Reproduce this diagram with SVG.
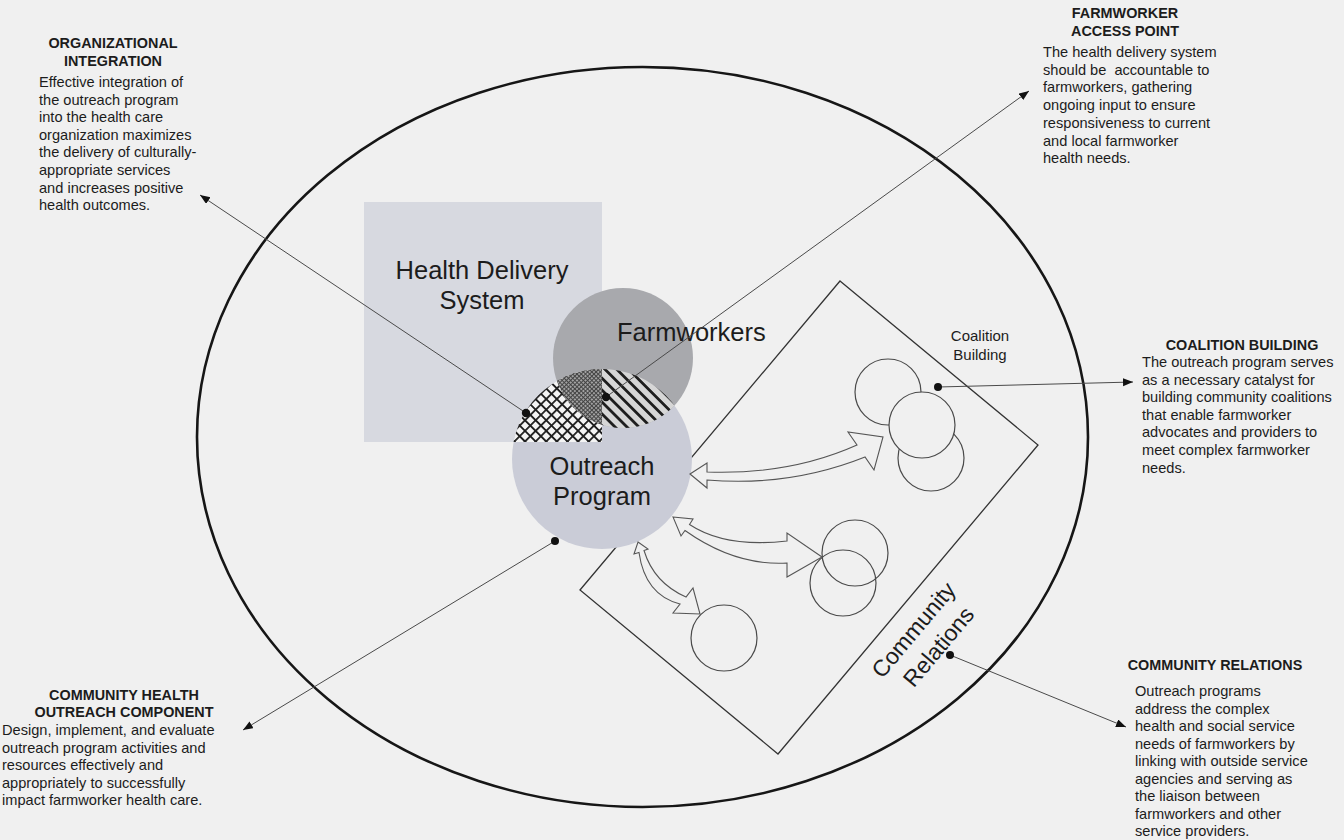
<svg xmlns="http://www.w3.org/2000/svg" width="1344" height="840" viewBox="0 0 1344 840">
  <style>
    .txt { font-family: "Liberation Sans", Arial, sans-serif; fill: #1c1c1c; }
    .body { font-size: 14.6px; }
    .head { font-size: 14.4px; font-weight: bold; text-anchor: middle; }
    .big { font-size: 25.5px; }
    .label { font-size: 15px; text-anchor: middle; }
    .leader { stroke: #4a4a4a; stroke-width: 1; fill: none; }
    .dot { fill: #111; }
    .ring { stroke: #4a4a4a; stroke-width: 1.2; }
    .block { fill: #f0f0f0; stroke: #555; stroke-width: 1.1; stroke-linejoin: miter; }
  </style>
  <defs>
    <marker id="tip" markerUnits="userSpaceOnUse" markerWidth="12" markerHeight="10" refX="10" refY="4" orient="auto">
      <path d="M0,0 L10,4 L0,8 Z" fill="#111"/>
    </marker>
    <!-- diamond lattice -->
    <pattern id="cross" patternUnits="userSpaceOnUse" width="7.5" height="7.5" patternTransform="rotate(45)">
      <rect width="7.5" height="7.5" fill="#f4f4f4"/>
      <path d="M0,0.9 H7.5 M0.9,0 V7.5" stroke="#1e1e1e" stroke-width="1.8"/>
    </pattern>
    <!-- fine dotted grid -->
    <pattern id="dense" patternUnits="userSpaceOnUse" width="3" height="3" patternTransform="rotate(45)">
      <rect width="3" height="3" fill="#a2a2a2"/>
      <path d="M0,0.5 H3 M0.5,0 V3" stroke="#444" stroke-width="1"/>
    </pattern>
    <!-- diagonal stripes -->
    <pattern id="stripe" patternUnits="userSpaceOnUse" width="8" height="8.4" patternTransform="rotate(45)">
      <rect width="8" height="8.4" fill="#d6d6d6"/>
      <rect y="0" width="8" height="2.8" fill="#1e1e1e"/>
    </pattern>
    <clipPath id="clipBox"><rect x="364" y="202" width="238" height="240"/></clipPath>
    <clipPath id="clipOut"><circle cx="602" cy="459" r="90"/></clipPath>
    <clipPath id="clipFarm"><circle cx="623" cy="358" r="70"/></clipPath>
  </defs>

  <rect width="1344" height="840" fill="#f0f0f0"/>

  <!-- outer boundary -->
  <ellipse id="boundary" cx="642.5" cy="437" rx="445.5" ry="370" fill="none" stroke="#161616" stroke-width="2.6"/>

  <g id="health-delivery-system">
    <rect x="364" y="202" width="238" height="240" fill="#d7d9e0"/>
    <text class="txt big" text-anchor="middle" x="482" y="279">Health Delivery</text>
    <text class="txt big" text-anchor="middle" x="482" y="309">System</text>
  </g>

  <g id="community-relations">
    <polygon points="840,281 1038,445 778,754 580,590" fill="none" stroke="#333" stroke-width="1.3"/>
    <text class="txt" font-size="23" text-anchor="middle" transform="translate(927,637) rotate(-50)">
      <tspan x="0" y="-7">Community</tspan>
      <tspan x="0" y="23">Relations</tspan>
    </text>
  </g>

  <g id="outreach-program">
    <circle cx="602" cy="459" r="90" fill="#caccd7"/>
  </g>

  <g id="farmworkers">
    <circle cx="623" cy="358" r="70" fill="#a8a9ad"/>
    <text class="txt big" x="617" y="341">Farmworkers</text>
  </g>

  <!-- overlap zones -->
  <g id="overlaps" clip-path="url(#clipOut)">
    <g clip-path="url(#clipBox)">
      <rect x="364" y="202" width="330" height="360" fill="url(#cross)"/>
    </g>
    <g clip-path="url(#clipFarm)">
      <rect x="364" y="202" width="330" height="360" fill="url(#stripe)"/>
      <g clip-path="url(#clipBox)">
        <rect x="364" y="202" width="330" height="360" fill="url(#dense)"/>
      </g>
    </g>
  </g>

  <g id="outreach-label">
    <text class="txt big" text-anchor="middle" x="602" y="475">Outreach</text>
    <text class="txt big" text-anchor="middle" x="602" y="505">Program</text>
  </g>

  <g id="coalition-building">
    <text class="txt label" x="980" y="341">Coalition</text>
    <text class="txt label" x="980" y="360">Building</text>
    <circle class="ring" cx="888" cy="392" r="33" fill="#f0f0f0"/>
    <circle class="ring" cx="931" cy="458" r="33" fill="#f0f0f0"/>
    <circle class="ring" cx="922" cy="425" r="33" fill="#f0f0f0"/>
  </g>

  <g id="partner-pair">
    <circle class="ring" cx="855" cy="553" r="33" fill="none"/>
    <circle class="ring" cx="843" cy="583" r="33" fill="none"/>
  </g>

  <g id="partner-single">
    <circle class="ring" cx="724" cy="638" r="33" fill="none"/>
  </g>

  <g id="connectors">
    <!-- two-way links from the outreach program -->
    <path class="block" d="M690,474 L707,463 L707,472 Q790,475 857,445 L848,432 L883,437 L874,470 L865,457 Q790,487 707,480 L707,488 Z"/>
    <path class="block" d="M673,517 L693,519 L689.5,524.5 Q725,548 787,541 L787,533 L822,557 L787,577 L787,563 Q735,566 685,530.5 L681,536 Z"/>
    <path class="block" d="M638,542 L648,549 L644,550.5 Q654,583 686,597 L693,588 L700,614 L673,613 L680,604 Q645,595 639,552.5 L634,554 Z"/>

    <!-- callout leaders -->
    <line class="leader" x1="526" y1="413" x2="200" y2="195" marker-end="url(#tip)"/>
    <line class="leader" x1="606" y1="397" x2="1029" y2="91" marker-end="url(#tip)"/>
    <line class="leader" x1="938" y1="387" x2="1133" y2="382" marker-end="url(#tip)"/>
    <line class="leader" x1="950" y1="655" x2="1126" y2="727" marker-end="url(#tip)"/>
    <line class="leader" x1="555" y1="541" x2="243" y2="730" marker-end="url(#tip)"/>
    <circle class="dot" cx="526" cy="413" r="4.2"/>
    <circle class="dot" cx="606" cy="397" r="4.2"/>
    <circle class="dot" cx="938" cy="387" r="4"/>
    <circle class="dot" cx="950" cy="655" r="4"/>
    <circle class="dot" cx="555" cy="541" r="4"/>
  </g>

  <g id="note-organizational-integration" class="txt">
    <text class="head" x="113" y="48">ORGANIZATIONAL</text>
    <text class="head" x="113" y="66">INTEGRATION</text>
    <text class="body" x="39" y="87">Effective integration of</text>
    <text class="body" x="39" y="104.6">the outreach program</text>
    <text class="body" x="39" y="122.2">into the health care</text>
    <text class="body" x="39" y="139.8">organization maximizes</text>
    <text class="body" x="39" y="157.4">the delivery of culturally-</text>
    <text class="body" x="39" y="175">appropriate services</text>
    <text class="body" x="39" y="192.6">and increases positive</text>
    <text class="body" x="39" y="210.2">health outcomes.</text>
  </g>

  <g id="note-farmworker-access-point" class="txt">
    <text class="head" x="1125" y="18">FARMWORKER</text>
    <text class="head" x="1125" y="36">ACCESS POINT</text>
    <text class="body" x="1043" y="57">The health delivery system</text>
    <text class="body" x="1043" y="74.7">should be&#160; accountable to</text>
    <text class="body" x="1043" y="92.4">farmworkers, gathering</text>
    <text class="body" x="1043" y="110.1">ongoing input to ensure</text>
    <text class="body" x="1043" y="127.8">responsiveness to current</text>
    <text class="body" x="1043" y="145.5">and local farmworker</text>
    <text class="body" x="1043" y="163.2">health needs.</text>
  </g>

  <g id="note-coalition-building" class="txt">
    <text class="head" x="1242" y="350">COALITION BUILDING</text>
    <text class="body" x="1142" y="367">The outreach program serves</text>
    <text class="body" x="1142" y="384.6">as a necessary catalyst for</text>
    <text class="body" x="1142" y="402.2">building community coalitions</text>
    <text class="body" x="1142" y="419.8">that enable farmworker</text>
    <text class="body" x="1142" y="437.4">advocates and providers to</text>
    <text class="body" x="1142" y="455">meet complex farmworker</text>
    <text class="body" x="1142" y="472.6">needs.</text>
  </g>

  <g id="note-community-relations" class="txt">
    <text class="head" x="1215" y="670">COMMUNITY RELATIONS</text>
    <text class="body" x="1135" y="696">Outreach programs</text>
    <text class="body" x="1135" y="713.5">address the complex</text>
    <text class="body" x="1135" y="731">health and social service</text>
    <text class="body" x="1135" y="748.5">needs of farmworkers by</text>
    <text class="body" x="1135" y="766">linking with outside service</text>
    <text class="body" x="1135" y="783.5">agencies and serving as</text>
    <text class="body" x="1135" y="801">the liaison between</text>
    <text class="body" x="1135" y="818.5">farmworkers and other</text>
    <text class="body" x="1135" y="836">service providers.</text>
  </g>

  <g id="note-community-health-outreach" class="txt">
    <text class="head" x="124" y="700">COMMUNITY HEALTH</text>
    <text class="head" x="124" y="717">OUTREACH COMPONENT</text>
    <text class="body" x="2" y="735">Design, implement, and evaluate</text>
    <text class="body" x="2" y="752.5">outreach program activities and</text>
    <text class="body" x="2" y="770">resources effectively and</text>
    <text class="body" x="2" y="787.5">appropriately to successfully</text>
    <text class="body" x="2" y="805">impact farmworker health care.</text>
  </g>
</svg>
